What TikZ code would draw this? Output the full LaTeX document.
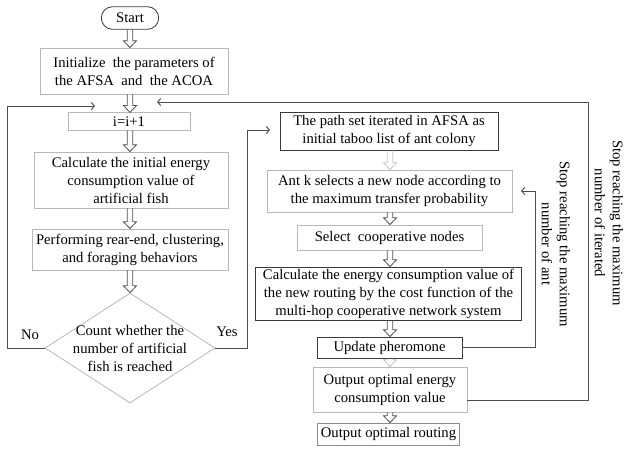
\documentclass[tikz,border=0pt]{standalone}
\usepackage{fontspec}
\setmainfont{Liberation Serif}
\usetikzlibrary{
    shapes,
    shapes.geometric,
    shapes.misc,
    positioning,
    calc,
    arrows.meta
}
\definecolor{edgegray}{HTML}{B8B8B8}
\definecolor{midgray}{HTML}{8C8C8C}
\definecolor{darkline}{HTML}{3A3A3A}
\definecolor{linkgray}{HTML}{4E4E4E}
\definecolor{palearrow}{HTML}{C4C4C4}
\tikzset{
  basic/.style = {
      draw,
      font=\fontsize{11}{13.5}\selectfont,
      rectangle,
      fill=white,
      align=center,
      inner sep=1pt,
      line width=0.6pt
  },
  light/.style = {
      basic,
      draw=edgegray
  },
  dark/.style = {
      basic,
      draw=darkline
  },
  round/.style = {
    basic,
    draw=darkline,
    rounded rectangle
  },
  rhombus/.style = {
    basic,
    draw=edgegray,
    diamond
  },
  plain/.style = {
      draw=none,
      font=\fontsize{11}{13.5}\selectfont,
      align=center,
      inner sep=0pt
  },
  note/.style = {
      plain,
      rotate=-90
  },
  hollow/.style = {
      draw=#1,
      line width=0.6pt,
      to path={
        ($(\tikztostart)+(-2.1pt,0)$) -- ($(\tikztotarget)+(-2.1pt,5.2pt)$)
        -- ++(-2.8pt,0) -- (\tikztotarget) -- ++(4.9pt,5.2pt) -- ++(-2.8pt,0)
        -- ($(\tikztostart)+(2.1pt,0)$)
      }
  },
  hollow/.default = linkgray,
  link/.style = {
      draw=linkgray,
      line width=0.7pt,
      -{Straight Barb[length=2.4pt,width=5.5pt]}
  }
}

\begin{document}
\begin{tikzpicture}[x=0.75pt, y=-0.75pt]
    \useasboundingbox (0,0) rectangle (628,449);
    % Nodes, left column
    \node[round, minimum width=45pt, minimum height=17pt] (start) at (130,18) {Start};
    \node[light, minimum width=141pt, minimum height=34.5pt] (init) at (134,71)
        {Initialize~ the parameters of\\the AFSA~ and~ the ACOA};
    \node[light, minimum width=91.5pt, minimum height=13pt] (inc) at (129,121.5) {i=i+1};
    \node[light, minimum width=145.5pt, minimum height=42pt] (energy) at (131,180)
        {Calculate the initial energy\\consumption value of\\artificial fish};
    \node[light, minimum width=147pt, minimum height=30.75pt] (behave) at (130,249.5)
        {Performing rear-end, clustering,\\and foraging behaviors};
    \node[rhombus, minimum width=127.5pt, minimum height=82.5pt] (count) at (130,348) {};
    \node[plain] (counttxt) at (count) {Count whether the\\number of artificial\\fish is reached};
    \node[plain] (no) at (30,335) {No};
    \node[plain] (yes) at (227,332) {Yes};
    % Nodes, right column
    \node[dark, minimum width=163.5pt, minimum height=28.5pt] (taboo) at (389,131)
        {The path set iterated in AFSA as\\initial taboo list of ant colony};
    \node[light, minimum width=183.75pt, minimum height=31.5pt] (antk) at (389.5,191)
        {Ant k selects a new node according to\\the maximum transfer probability};
    \node[light, minimum width=138.75pt, minimum height=18.75pt] (coop) at (389.5,237.5)
        {Select~ cooperative nodes};
    \node[dark, minimum width=200pt, minimum height=39.75pt] (cost) at (388.5,293.5)
        {Calculate the energy consumption value of\\the new routing by the cost function of the\\multi-hop cooperative network system};
    \node[dark, minimum width=108.75pt, minimum height=15.75pt] (phero) at (389.5,347.5)
        {Update pheromone};
    \node[light, minimum width=115.5pt, minimum height=33.75pt] (bestval) at (390,389.5)
        {Output optimal energy\\consumption value};
    \node[basic, draw=midgray, minimum width=107pt, minimum height=16.5pt] (bestroute) at (388.5,434)
        {Output optimal routing};
    \node[note] (antstop) at (556,244) {Stop reaching the maximum\\number of ant};
    \node[note] (iterstop) at (609,223) {Stop reaching the maximum\\number of iterated};
    % Arrow ends
    \coordinate (noend) at (95,106);
    \coordinate (yesend) at (270,130);
    \coordinate (antend) at (521,191);
    \coordinate (iterend) at (157,102);
    % Hollow arrows
    \path
    (start.south) edge[hollow] (start.south |- init.north)
    (start.south |- init.south) edge[hollow] (start.south |- inc.north)
    (start.south |- inc.south) edge[hollow] (start.south |- energy.north)
    (start.south |- energy.south) edge[hollow] (start.south |- behave.north)
    (start.south |- behave.south) edge[hollow] (count.north)
    (390,0 |- taboo.south) edge[hollow=palearrow] (390,0 |- antk.north)
    (390,0 |- antk.south) edge[hollow] (390,0 |- coop.north)
    (390,0 |- coop.south) edge[hollow] (390,0 |- cost.north)
    (390,0 |- cost.south) edge[hollow] (390,0 |- phero.north)
    (390,0 |- phero.south) edge[hollow=palearrow] (390,0 |- bestval.north)
    (390,0 |- bestval.south) edge[hollow] (390,0 |- bestroute.north);
    % Loops
    \draw[link] (count.west) -- ++(-37,0) |- (noend);
    \draw[link] (count.east) -- ++(32,0) |- (yesend);
    \draw[link] (phero.east) -- ++(73,0) |- (antend);
    \draw[link] ([yshift=-7.9pt]bestval.east) -- ++(121,0) |- (iterend);
\end{tikzpicture}
\end{document}
